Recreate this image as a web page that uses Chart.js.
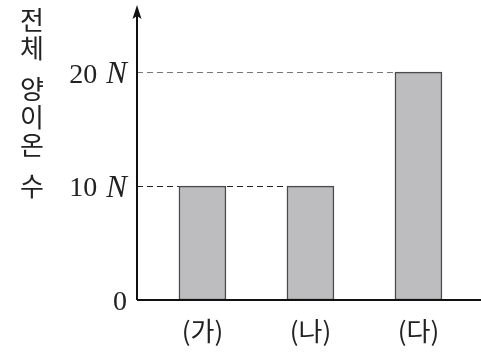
<!DOCTYPE html>
<html>
<head>
<meta charset="utf-8">
<script src="https://cdn.jsdelivr.net/npm/chart.js@4/dist/chart.umd.min.js"></script>
<style>
  html, body { margin: 0; padding: 0; background: #fff; }
  #wrap { width: 481px; height: 352px; }
</style>
</head>
<body>
<div id="wrap"><canvas id="chart"></canvas></div>
<script>
// data
const categories = ['(가)', '(나)', '(다)'];
const values = [10, 10, 20];
const yTicks = [0, 10, 20];
const yTickLabels = ['0', '10', '20'];
const yTickUnits = ['', 'N', 'N'];
const yTitle = ['전', '체', ' ', '양', '이', '온', ' ', '수'];

const serif = '"Liberation Serif", "DejaVu Serif", serif';
const sans = '"Noto Sans CJK KR", "Noto Sans", sans-serif';

const axesPlugin = {
    id: 'axesPlugin',
    beforeDatasetsDraw(chart) {
        const { ctx, scales: { y }, chartArea } = chart;
        const meta = chart.getDatasetMeta(0);
        ctx.save();
        ctx.lineWidth = 1.2;
        ctx.setLineDash([6, 4]);
        yTicks.forEach(t => {
            if (t === 0) return;
            // farthest bar reaching this level
            let idx = -1;
            values.forEach((v, i) => { if (v === t) idx = i; });
            if (idx < 0) return;
            const bar = meta.data[idx];
            const py = Math.round(y.getPixelForValue(t)) + 0.5;
            ctx.strokeStyle = t === 20 ? '#777' : '#222';
            ctx.beginPath();
            ctx.moveTo(chartArea.left, py);
            ctx.lineTo(bar.x - bar.width / 2, py);
            ctx.stroke();
        });
        ctx.restore();
    },
    afterDatasetsDraw(chart) {
        const { ctx, scales: { x, y }, chartArea } = chart;
        ctx.save();
        const y0 = y.getPixelForValue(0);
        // axes
        ctx.strokeStyle = '#111';
        ctx.lineWidth = 2;
        ctx.beginPath();
        ctx.moveTo(chartArea.left, y0);
        ctx.lineTo(chartArea.right, y0);
        ctx.moveTo(chartArea.left, y0);
        ctx.lineTo(chartArea.left, chartArea.top + 8);
        ctx.stroke();
        // arrow head
        ctx.fillStyle = '#111';
        ctx.beginPath();
        ctx.moveTo(chartArea.left, chartArea.top);
        ctx.lineTo(chartArea.left - 4.5, chartArea.top + 14);
        ctx.lineTo(chartArea.left, chartArea.top + 11);
        ctx.lineTo(chartArea.left + 4.5, chartArea.top + 14);
        ctx.closePath();
        ctx.fill();

        // y tick labels
        ctx.fillStyle = '#222';
        ctx.textBaseline = 'middle';
        yTicks.forEach((t, i) => {
            const py = y.getPixelForValue(t) + 3;
            const unit = yTickUnits[i];
            let right = chartArea.left - 10;
            if (unit) {
                ctx.font = 'italic 31px ' + serif;
                ctx.textAlign = 'right';
                ctx.fillText(unit, right, py);
                right -= ctx.measureText(unit).width + 9;
            }
            ctx.font = '28px ' + serif;
            ctx.textAlign = 'right';
            ctx.fillText(yTickLabels[i], right, py);
        });

        // x labels
        ctx.font = '26px ' + sans;
        ctx.textAlign = 'center';
        ctx.textBaseline = 'middle';
        categories.forEach((c, i) => {
            ctx.fillText(c, x.getPixelForValue(i), y0 + 31);
        });

        // vertical y title
        ctx.font = '26px ' + sans;
        let ty = 20;
        yTitle.forEach(ch => {
            if (ch === ' ') { ty += 13; return; }
            ctx.fillText(ch, 32, ty);
            ty += 28;
        });
        ctx.restore();
    }
};

new Chart(document.getElementById('chart'), {
    type: 'bar',
    data: {
        datasets: [{
            data: values.map((v, i) => ({ x: i, y: v })),
            backgroundColor: '#bdbdbf',
            borderColor: '#4a4a4a',
            borderWidth: 1.5,
            borderSkipped: false,
            barThickness: 47
        }]
    },
    options: {
        responsive: true,
        maintainAspectRatio: false,
        animation: false,
        layout: { padding: { left: 137, right: 0, top: 5, bottom: 52 } },
        plugins: { legend: { display: false }, tooltip: { enabled: false } },
        scales: {
            x: { type: 'linear', offset: false, min: -0.606, max: 2.579, display: false },
            y: { min: 0, max: 25.9, display: false }
        }
    },
    plugins: [axesPlugin]
});
</script>
</body>
</html>
